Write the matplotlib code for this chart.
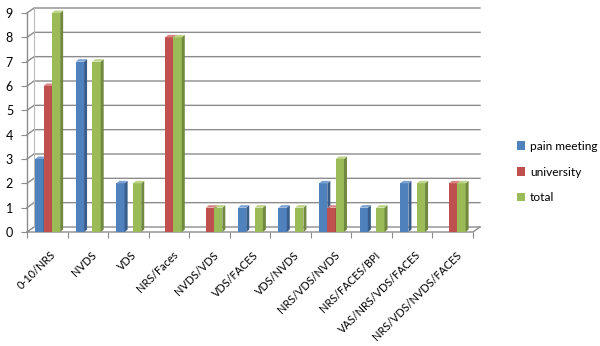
import matplotlib.pyplot as plt
from matplotlib.patches import Polygon
from matplotlib.transforms import ScaledTranslation
import numpy as np

categories = ['0-10/NRS', 'NVDS', 'VDS', 'NRS/Faces', 'NVDS/VDS', 'VDS/FACES',
              'VDS/NVDS', 'NRS/VDS/NVDS', 'NRS/FACES/BPI', 'VAS/NRS/VDS/FACES',
              'NRS/VDS/NVDS/FACES']
pain_meeting = [3, 7, 2, 0, 0, 1, 1, 2, 1, 2, 0]
university = [6, 0, 0, 8, 1, 0, 0, 1, 0, 0, 2]
total = [9, 7, 2, 8, 1, 1, 1, 3, 1, 2, 2]
yticks = list(range(10))

series = [
    ('pain meeting', pain_meeting, '#4F81BD', '#385D8A', '#7DA2D2'),
    ('university', university, '#C0504D', '#8C3836', '#D78885'),
    ('total', total, '#9BBB59', '#71893F', '#BDD48A'),
]

plt.rcParams['font.family'] = ['Lato', 'DejaVu Sans']

fig = plt.figure(figsize=(6, 3.46), dpi=100)
ax = fig.add_axes([27 / 600, 1 - 232 / 346, 446 / 600, 219 / 346])
n = len(categories)
ax.set_xlim(0, n)
ax.set_ylim(0, 9)

# pixel -> data scale
px_x = n / 446
px_y = 9 / 219
wall_dx, wall_dy = 7 * px_x, 5 * px_y      # back wall offset
side_dx, side_dy = 3 * px_x, 2.5 * px_y    # bar depth

grid_c = '#8C8C8C'
# back wall gridlines + left wall diagonals
for v in yticks:
    ax.plot([0, wall_dx, n + wall_dx], [v, v + wall_dy, v + wall_dy],
            color=grid_c, lw=1, clip_on=False, zorder=1)
# back-left vertical edge
ax.plot([wall_dx, wall_dx], [wall_dy, 9 + wall_dy], color='#BBBBBB', lw=0.8,
        clip_on=False, zorder=1)
# floor
ax.plot([0, n, n + wall_dx], [0, 0, wall_dy], color=grid_c, lw=1,
        clip_on=False, zorder=1)
ax.plot([0, 0], [0, 9], color=grid_c, lw=1, clip_on=False, zorder=1)

x = np.arange(n) + 0.5
w = 0.205
for k, (name, vals, c, cs, ct) in enumerate(series):
    xs = x + (k - 1) * w + 0.01
    ax.bar(xs, vals, width=w, color=c, label=name, zorder=3 + k, lw=0)
    for xi, v in zip(xs, vals):
        if v <= 0:
            continue
        l, r = xi - w / 2, xi + w / 2
        side = Polygon([(r, 0), (r + side_dx, side_dy), (r + side_dx, v + side_dy), (r, v)],
                       closed=True, fc=cs, ec='none', zorder=3 + k, clip_on=False)
        top = Polygon([(l, v), (l + side_dx, v + side_dy), (r + side_dx, v + side_dy), (r, v)],
                      closed=True, fc=ct, ec='none', zorder=3 + k, clip_on=False)
        ax.add_patch(side)
        ax.add_patch(top)

for s in ax.spines.values():
    s.set_visible(False)

ax.set_yticks(yticks)
ax.set_yticklabels([str(v) for v in yticks], fontsize=9)
ax.tick_params(axis='y', length=4, color=grid_c, pad=6)
ax.set_xticks(np.arange(n + 1))
ax.set_xticklabels([])
ax.set_xticks(x, minor=True)
ax.set_xticklabels(categories, minor=True, rotation=45, ha='right',
                   rotation_mode='anchor', fontsize=7.8)
ax.tick_params(axis='x', which='major', length=4, color=grid_c)
ax.tick_params(axis='x', which='minor', length=0, pad=12.5)
shift = ScaledTranslation(3 / 100, 0, fig.dpi_scale_trans)
for lbl in ax.get_xticklabels(minor=True):
    lbl.set_transform(lbl.get_transform() + shift)

fig.legend(loc='center left', bbox_to_anchor=(512 / 600, 1 - 172 / 346),
           frameon=False, fontsize=8.6, handlelength=0.7, handleheight=0.7,
           handletextpad=0.4, labelspacing=1.25, borderaxespad=0)

fig.savefig('out.png', dpi=100)
